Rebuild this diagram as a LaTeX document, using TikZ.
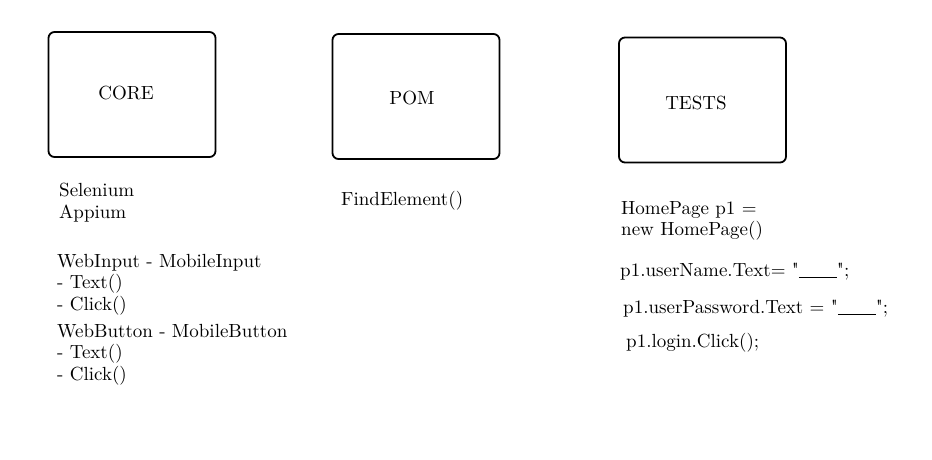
\documentclass[tikz,border=0pt]{standalone}
\usepackage{fontspec}
\setmainfont{lmroman10-regular.otf}
\usepackage{tikz}

\begin{document}
\begin{tikzpicture}
[x=1pt, y=-1pt,
every node/.style = {align=left, font=\fontsize{19}{21.5}\selectfont}]
\tikzstyle{box} = [rectangle, draw=black, line width=1.8pt, rounded corners=6pt,
  minimum width=167pt, minimum height=125pt, inner sep=0pt]
\tikzstyle{note} = [anchor=base west, inner sep=0pt]

\useasboundingbox (0,0) rectangle (932,459);

% the three layers
\node[box] (core) at (132,94.5) {};
\node[box] (pom) at (416,96.5) {};
\node[box] (tests) at (702.5,100) {};

\node (corename) at ([xshift=-6pt, yshift=1pt]core.center) {CORE};
\node (pomname) at ([xshift=-4pt, yshift=-1.5pt]pom.center) {POM};
\node (testsname) at ([xshift=-6.5pt, yshift=-3pt]tests.center) {TESTS};

% core (base = last line)
\node[note] (drivers) at (59,218) {Selenium\\Appium};
\node[note] (input) at (57,310) {WebInput - MobileInput\\- Text()\\- Click()};
\node[note] (button) at (57,380) {WebButton - MobileButton\\- Text()\\- Click()};

% pom
\node[note] (find) at (341,205) {FindElement()};

% tests
\node[note] (page) at (621,235.5) {HomePage p1 =\\new HomePage()};
\node[note] (user) at (620,276) {p1.userName.Text= \textquotedbl\underline{\hspace{38pt}}\textquotedbl;};
\node[note] (pass) at (623,313) {p1.userPassword.Text = \textquotedbl\underline{\hspace{38pt}}\textquotedbl;};
\node[note] (login) at (626,347) {p1.login.Click();};

\end{tikzpicture}
\end{document}
